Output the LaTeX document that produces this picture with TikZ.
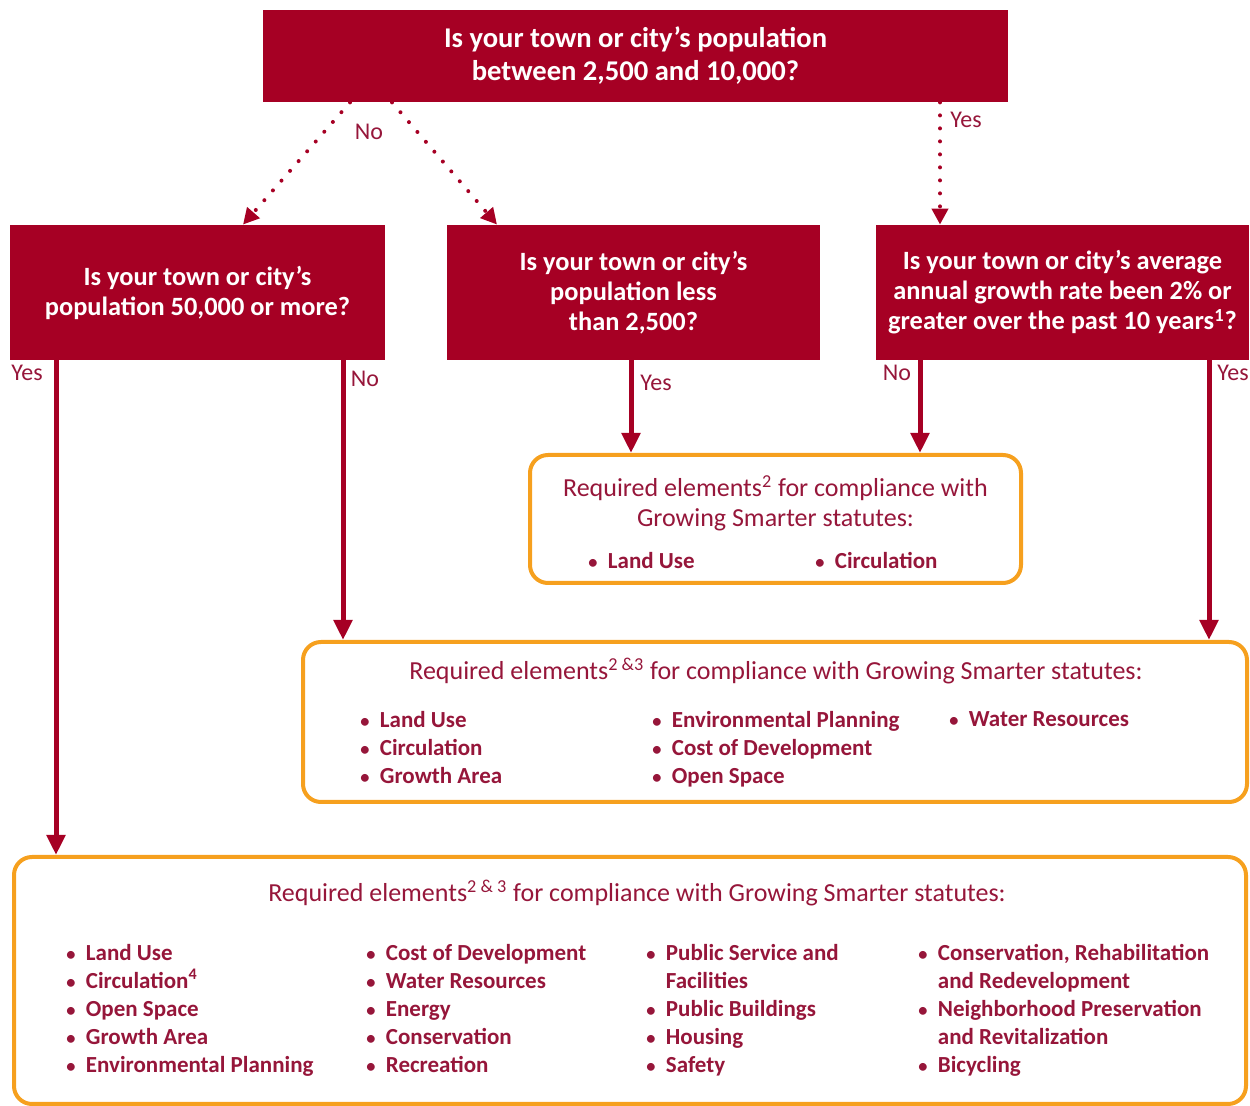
\documentclass[tikz,border=0pt]{standalone}
\usepackage{fontspec}
\setmainfont{Carlito}
\usetikzlibrary{arrows.meta}

\definecolor{boxred}{RGB}{166,0,36}
\definecolor{txtred}{RGB}{150,22,58}
\definecolor{rimorange}{RGB}{246,160,30}

\newcommand{\itm}[1]{\scalebox{0.8}{\textbullet}\hspace{0.45em}#1}
\newcommand{\cont}[1]{\hphantom{\scalebox{0.8}{\textbullet}\hspace{0.45em}}#1}

\begin{document}
\begin{tikzpicture}[x=0.5pt, y=-0.5pt,
    qbox/.style={fill=boxred, text=white, font=\fontsize{13.2}{15}\selectfont\bfseries, align=center, inner sep=0pt},
    reqbox/.style={draw=rimorange, line width=2pt, rounded corners=9pt, inner sep=0pt},
    head/.style={text=txtred, font=\fontsize{13}{15}\selectfont, align=center, inner sep=0pt},
    items/.style={text=txtred, font=\fontsize{11.5}{14}\selectfont\bfseries, align=left, anchor=north west, inner sep=0pt},
    lbl/.style={text=txtred, font=\fontsize{12}{14}\selectfont, inner sep=0pt},
    yesno/.style={draw=boxred, line width=2.5pt, -{Triangle[length=10pt,width=9pt]}},
    maybe/.style={draw=boxred, line width=2pt, line cap=round, dash pattern=on 0pt off 6.5pt, -{Triangle[length=8pt,width=8pt]}}]
    \useasboundingbox (0,0) rectangle (1250,1106);

    % Questions
    \node[qbox, minimum width=372.5pt, minimum height=46pt, font=\fontsize{14.3}{16.5}\selectfont\bfseries] (qtop) at (635.5,56)
        {Is your town or city's population\\between 2,500 and 10,000?};
    \node[qbox, minimum width=187.5pt, minimum height=67.5pt] (qleft) at (197.5,292.5)
        {Is your town or city's\\population 50,000 or more?};
    \node[qbox, minimum width=186.5pt, minimum height=67.5pt] (qmid) at (633.5,292.5)
        {Is your town or city's\\population less\\than 2,500?};
    \node[qbox, minimum width=186.5pt, minimum height=67.5pt] (qright) at (1062.5,292.5)
        {Is your town or city's average\\annual growth rate been 2\% or\\greater over the past 10 years\textsuperscript{1}?};

    % Required elements
    \node[reqbox, minimum width=245.5pt, minimum height=64pt] (reqsmall) at (775.5,519) {};
    \node[head] (hsmall) at (775.5,503)
        {Required elements\textsuperscript{2} for compliance with\\Growing Smarter statutes:};
    \node[items] (s1) at (588,552) {\itm{Land Use}};
    \node[items] (s2) at (815,552) {\itm{Circulation}};

    \node[reqbox, minimum width=472pt, minimum height=80pt] (reqmid) at (775,722) {};
    \node[head] (hmid) at (776,671)
        {Required elements\textsuperscript{2 \&3} for compliance with Growing Smarter statutes:};
    \node[items] (m1) at (360,711) {\itm{Land Use}\\\itm{Circulation}\\\itm{Growth Area}};
    \node[items] (m2) at (652,711) {\itm{Environmental Planning}\\\itm{Cost of Development}\\\itm{Open Space}};
    \node[items] (m3) at (949,711) {\itm{Water Resources}};

    \node[reqbox, minimum width=616pt, minimum height=123.5pt] (reqall) at (630,980.5) {};
    \node[head] (hall) at (637,893)
        {Required elements\textsuperscript{2 \& 3} for compliance with Growing Smarter statutes:};
    \node[items] (b1) at (66,944) {\itm{Land Use}\\\itm{Circulation\textsuperscript{4}}\\\itm{Open Space}\\\itm{Growth Area}\\\itm{Environmental Planning}};
    \node[items] (b2) at (366,944) {\itm{Cost of Development}\\\itm{Water Resources}\\\itm{Energy}\\\itm{Conservation}\\\itm{Recreation}};
    \node[items] (b3) at (646,944) {\itm{Public Service and}\\\cont{Facilities}\\\itm{Public Buildings}\\\itm{Housing}\\\itm{Safety}};
    \node[items] (b4) at (918,944) {\itm{Conservation, Rehabilitation}\\\cont{and Redevelopment}\\\itm{Neighborhood Preservation}\\\cont{and Revitalization}\\\itm{Bicycling}};

    % Branches
    \draw[maybe] (qtop.south -| 350,0) -- (qleft.north -| 243,0);
    \draw[maybe] (qtop.south -| 392,0) -- (qmid.north -| 497,0);
    \draw[maybe] (qtop.south -| 940,0) -- (qright.north -| 940,0);
    \node[lbl] (lno) at (369,132) {No};
    \node[lbl] (lyes) at (966,120) {Yes};

    \draw[yesno] (qleft.south -| 56,0) -- (reqall.north -| 56,0);
    \draw[yesno] (qleft.south -| 343,0) -- (reqmid.north -| 343,0);
    \draw[yesno] (qmid.south -| 631,0) -- (reqsmall.north -| 631,0);
    \draw[yesno] (qright.south -| 920,0) -- (reqsmall.north -| 920,0);
    \draw[yesno] (qright.south -| 1209,0) -- (reqmid.north -| 1209,0);
    \node[lbl] (lyes1) at (27,373) {Yes};
    \node[lbl] (lno1) at (365,379) {No};
    \node[lbl] (lyes2) at (656,383) {Yes};
    \node[lbl] (lno2) at (897,373) {No};
    \node[lbl] (lyes3) at (1233,373) {Yes};
\end{tikzpicture}
\end{document}
